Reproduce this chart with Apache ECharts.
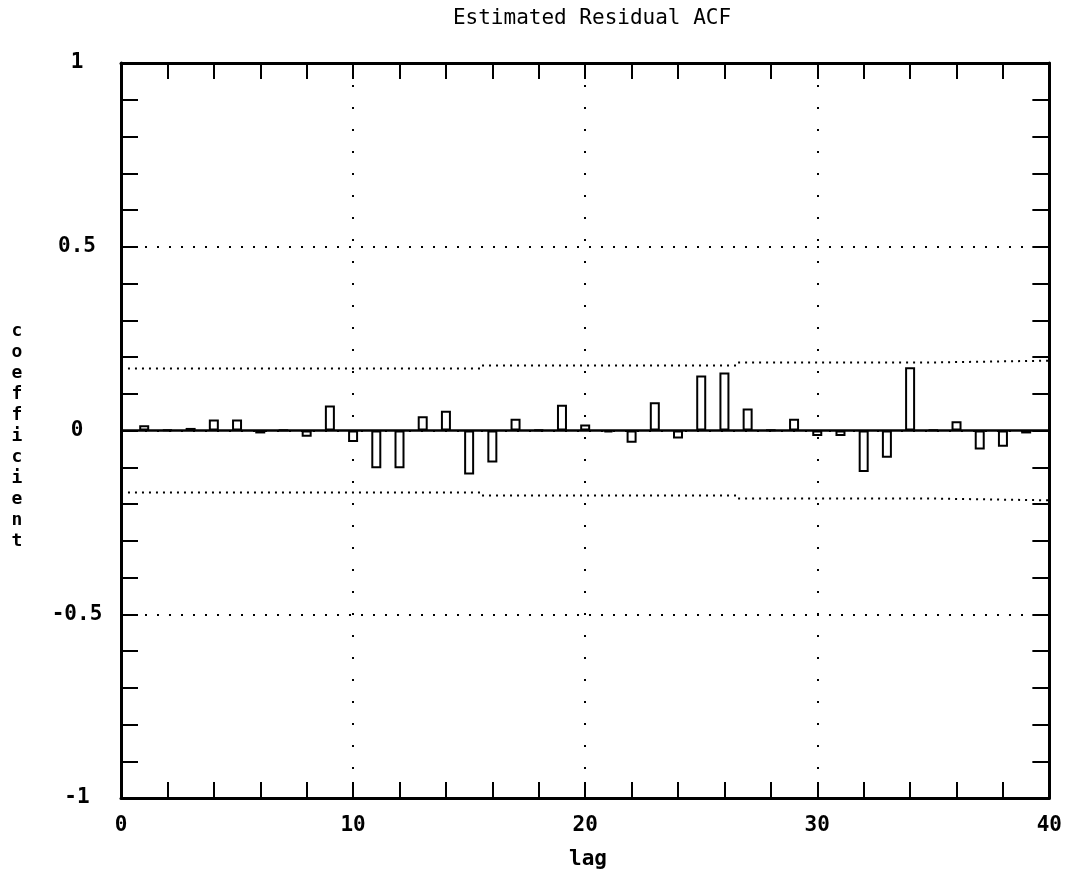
<!DOCTYPE html>
<html>
<head>
<meta charset="utf-8">
<title>Estimated Residual ACF</title>
<script src="https://cdn.jsdelivr.net/npm/echarts@6/dist/echarts.min.js"></script>
<style>
  html, body { margin: 0; padding: 0; background: #fff; }
  #chart { width: 1065px; height: 878px; }
</style>
</head>
<body>
<div id="chart"></div>
<script>
// Residual autocorrelation estimates, lags 1..39
const lags = [1, 2, 3, 4, 5, 6, 7, 8, 9, 10, 11, 12, 13, 14, 15, 16, 17, 18, 19, 20,
              21, 22, 23, 24, 25, 26, 27, 28, 29, 30, 31, 32, 33, 34, 35, 36, 37, 38, 39];
const acfValues = [0.014, 0.002, 0.007, 0.030, 0.030, -0.008, 0.001, -0.017, 0.068, -0.031,
                   -0.103, -0.103, 0.039, 0.054, -0.120, -0.087, 0.032, 0.002, 0.070, 0.016,
                   -0.005, -0.033, 0.077, -0.022, 0.150, 0.158, 0.060, 0.001, 0.032, -0.015,
                   -0.015, -0.113, -0.074, 0.172, 0.001, 0.025, -0.052, -0.044, -0.008];

// Approximate confidence band: lag breakpoints and the level used between them
const bandBreaks = [0.3, 15.5, 26.5, 34.8, 40];
const bandLevels = [0.169, 0.177, 0.185, 0.190];

// Axis ranges and tick steps
const xRange = [0, 40];
const yRange = [-1, 1];
const xTickStep = 2;
const xLabelStep = 10;
const yTickStep = 0.1;
const yLabelStep = 0.5;

const titleText = 'Estimated Residual ACF';
const xName = 'lag';
const yName = 'coefficient';

const FONT = '"DejaVu Sans Mono", "Liberation Mono", monospace';

const barData = lags.map((l, i) => [l, acfValues[i]]);
const upperBand = [];
const lowerBand = [];
for (let i = 0; i < bandLevels.length; i++) {
  upperBand.push([bandBreaks[i], bandLevels[i]], [bandBreaks[i + 1], bandLevels[i]]);
  lowerBand.push([bandBreaks[i], -bandLevels[i]], [bandBreaks[i + 1], -bandLevels[i]]);
}

const isMultiple = (v, step) => Math.abs(v / step - Math.round(v / step)) < 1e-6;
const fmtY = v => {
  const r = Math.round(v * 10) / 10;
  return r === 0 ? '0' : String(r);
};

const frameLine = { show: true, onZero: false, lineStyle: { color: '#000', width: 3 } };
const ticksIn = len => ({ show: true, inside: true, length: len, lineStyle: { color: '#000', width: 2 } });

const chart = echarts.init(document.getElementById('chart'), null, { renderer: 'canvas' });

chart.setOption({
  backgroundColor: '#fff',
  animation: false,
  title: {
    text: titleText,
    left: 587,
    top: 3,
    textAlign: 'center',
    textStyle: { fontFamily: FONT, fontSize: 21, fontWeight: 'normal', color: '#000' }
  },
  grid: { left: 121, right: 12, top: 63, bottom: 80, containLabel: false },
  xAxis: [
    {
      type: 'value', position: 'bottom', min: xRange[0], max: xRange[1], interval: xTickStep,
      axisLine: frameLine, axisTick: ticksIn(16), splitLine: { show: false },
      axisLabel: {
        show: true, margin: 17, color: '#000', fontFamily: FONT, fontSize: 21, fontWeight: 'bold',
        formatter: v => (isMultiple(v, xLabelStep) ? String(v) : '')
      }
    },
    {
      type: 'value', position: 'top', min: xRange[0], max: xRange[1], interval: xTickStep,
      axisLine: frameLine, axisTick: ticksIn(16), axisLabel: { show: false }, splitLine: { show: false }
    },
    {
      type: 'value', position: 'bottom', min: xRange[0], max: xRange[1], interval: xLabelStep,
      axisLine: { show: false }, axisTick: { show: false }, axisLabel: { show: false },
      splitLine: { show: true, lineStyle: { color: '#000', width: 2, type: [2, 20] } }
    }
  ],
  yAxis: [
    {
      type: 'value', position: 'left', min: yRange[0], max: yRange[1], interval: yTickStep,
      axisLine: frameLine, axisTick: ticksIn(17), splitLine: { show: false },
      axisLabel: {
        show: true, margin: 44, align: 'center', color: '#000', fontFamily: FONT, fontSize: 21, fontWeight: 'bold',
        formatter: v => (isMultiple(v, yLabelStep) ? fmtY(v) : '')
      }
    },
    {
      type: 'value', position: 'right', min: yRange[0], max: yRange[1], interval: yTickStep,
      axisLine: frameLine, axisTick: ticksIn(17), axisLabel: { show: false }, splitLine: { show: false }
    },
    {
      type: 'value', position: 'left', min: yRange[0], max: yRange[1], interval: yLabelStep,
      axisLine: { show: false }, axisTick: { show: false }, axisLabel: { show: false },
      splitLine: { show: true, lineStyle: { color: '#000', width: 2, type: [2, 10] } }
    }
  ],
  series: [
    {
      name: 'upper band', type: 'line', xAxisIndex: 0, yAxisIndex: 0,
      data: upperBand, symbol: 'none', silent: true,
      lineStyle: { color: '#000', width: 2, type: [2, 5] }
    },
    {
      name: 'lower band', type: 'line', xAxisIndex: 0, yAxisIndex: 0,
      data: lowerBand, symbol: 'none', silent: true,
      lineStyle: { color: '#000', width: 2, type: [2, 5] }
    },
    {
      name: 'acf', type: 'bar', xAxisIndex: 0, yAxisIndex: 0,
      data: barData, barWidth: 10, z: 3,
      itemStyle: { color: '#fff', borderColor: '#000', borderWidth: 2 },
      markLine: {
        silent: true, symbol: 'none', label: { show: false },
        lineStyle: { color: '#000', width: 2.5, type: 'solid' },
        data: [{ yAxis: 0 }]
      }
    }
  ],
  graphic: [
    {
      type: 'text', x: 588, y: 860,
      style: {
        text: xName, font: 'bold 21px ' + FONT, fill: '#000',
        textAlign: 'center', textVerticalAlign: 'middle'
      }
    },
    {
      type: 'text', x: 17, y: 436,
      style: {
        text: yName.split('').join('\n'), font: 'bold 18px ' + FONT, fill: '#000',
        lineHeight: 21, textAlign: 'center', textVerticalAlign: 'middle'
      }
    }
  ]
});
</script>
</body>
</html>
